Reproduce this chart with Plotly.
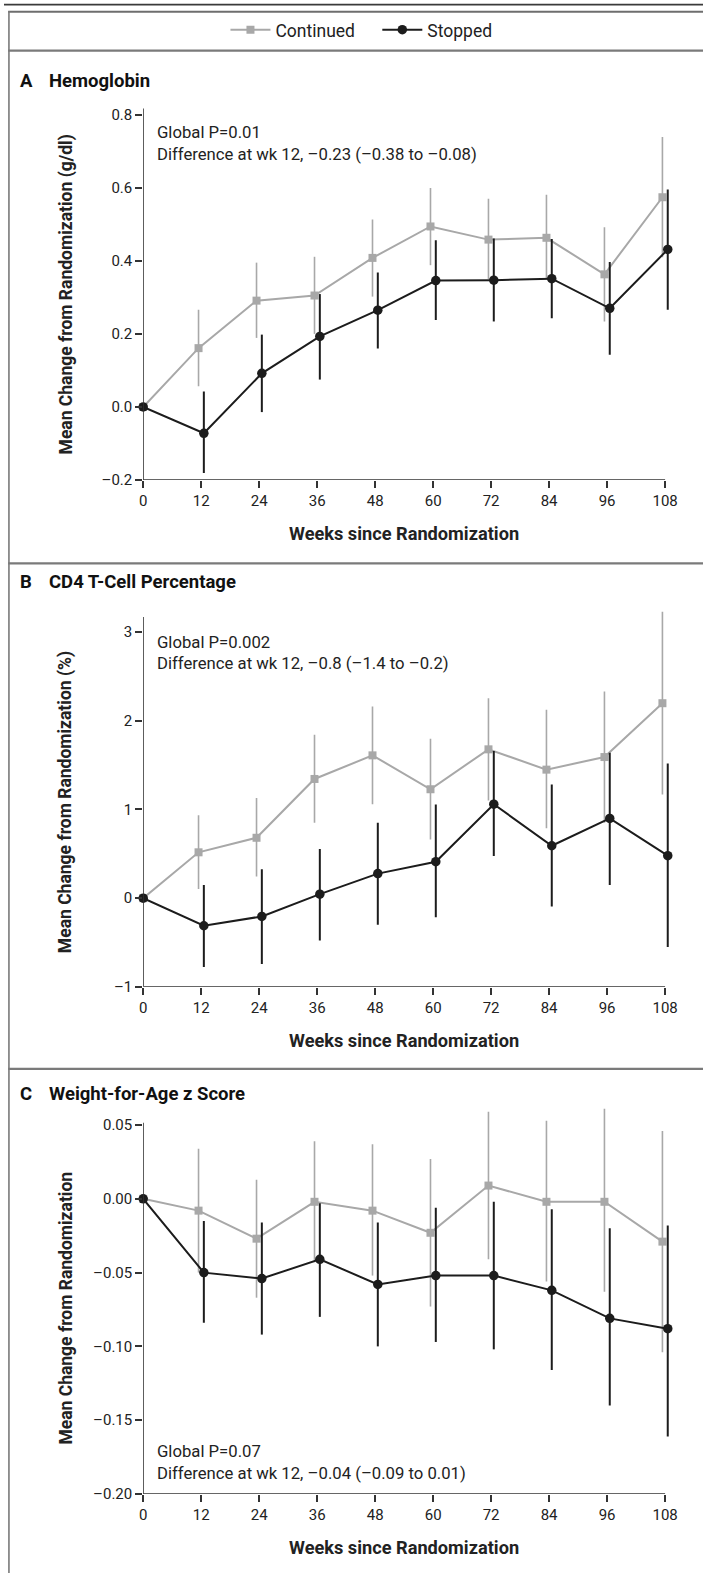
import plotly.graph_objects as go

# ---------------- data ----------------
weeks = [0, 12, 24, 36, 48, 60, 72, 84, 96, 108]
x_tick_labels = ["0", "12", "24", "36", "48", "60", "72", "84", "96", "108"]

# Panel A: Hemoglobin (g/dl)
hb_cont_mean = [0.0, 0.161, 0.291, 0.305, 0.408, 0.494, 0.458, 0.463, 0.363, 0.574]
hb_cont_low = [0.0, 0.057, 0.189, 0.200, 0.302, 0.388, 0.350, 0.350, 0.234, 0.410]
hb_cont_high = [0.0, 0.266, 0.395, 0.411, 0.513, 0.599, 0.570, 0.581, 0.492, 0.739]
hb_stop_mean = [0.0, -0.072, 0.092, 0.193, 0.265, 0.346, 0.347, 0.351, 0.270, 0.431]
hb_stop_low = [0.0, -0.181, -0.014, 0.075, 0.160, 0.238, 0.234, 0.243, 0.143, 0.266]
hb_stop_high = [0.0, 0.042, 0.198, 0.309, 0.368, 0.456, 0.461, 0.460, 0.397, 0.595]
hb_ticks = [-0.2, 0.0, 0.2, 0.4, 0.6, 0.8]
hb_tick_labels = ["–0.2", "0.0", "0.2", "0.4", "0.6", "0.8"]

# Panel B: CD4 T-cell percentage
cd4_cont_mean = [0.0, 0.517, 0.681, 1.344, 1.610, 1.228, 1.678, 1.449, 1.591, 2.198]
cd4_cont_low = [0.0, 0.104, 0.243, 0.850, 1.060, 0.660, 1.100, 0.787, 0.850, 1.169]
cd4_cont_high = [0.0, 0.936, 1.130, 1.843, 2.160, 1.798, 2.254, 2.124, 2.330, 3.230]
cd4_stop_mean = [0.0, -0.311, -0.206, 0.045, 0.277, 0.411, 1.059, 0.591, 0.899, 0.479]
cd4_stop_low = [0.0, -0.775, -0.742, -0.476, -0.300, -0.214, 0.475, -0.094, 0.149, -0.551]
cd4_stop_high = [0.0, 0.149, 0.326, 0.554, 0.850, 1.056, 1.658, 1.281, 1.640, 1.517]
cd4_ticks = [-1, 0, 1, 2, 3]
cd4_tick_labels = ["–1", "0", "1", "2", "3"]

# Panel C: Weight-for-age z score
wz_cont_mean = [0.0, -0.008, -0.027, -0.002, -0.008, -0.023, 0.009, -0.002, -0.002, -0.029]
wz_cont_low = [0.0, -0.050, -0.067, -0.043, -0.052, -0.073, -0.041, -0.056, -0.063, -0.104]
wz_cont_high = [0.0, 0.034, 0.013, 0.039, 0.037, 0.027, 0.059, 0.053, 0.061, 0.046]
wz_stop_mean = [0.0, -0.050, -0.054, -0.041, -0.058, -0.052, -0.052, -0.062, -0.081, -0.088]
wz_stop_low = [0.0, -0.084, -0.092, -0.080, -0.100, -0.097, -0.102, -0.116, -0.140, -0.161]
wz_stop_high = [0.0, -0.015, -0.016, -0.003, -0.016, -0.006, -0.002, -0.007, -0.020, -0.018]
wz_ticks = [-0.20, -0.15, -0.10, -0.05, 0.0, 0.05]
wz_tick_labels = ["–0.20", "–0.15", "–0.10", "–0.05", "0.00", "0.05"]

series_names = ["Continued", "Stopped"]
panel_letters = ["A", "B", "C"]
panel_titles = ["Hemoglobin", "CD4 T-Cell Percentage", "Weight-for-Age z Score"]
y_titles = ["Mean Change from Randomization (g/dl)",
            "Mean Change from Randomization (%)",
            "Mean Change from Randomization"]
stat_lines = [
    ["Global P=0.01", "Difference at wk 12, –0.23 (–0.38 to –0.08)"],
    ["Global P=0.002", "Difference at wk 12, –0.8 (–1.4 to –0.2)"],
    ["Global P=0.07", "Difference at wk 12, –0.04 (–0.09 to 0.01)"],
]
x_title = "Weeks since Randomization"

# ---------------- layout constants (pixels) ----------------
W, H = 708, 1582
FONT = "Roboto, 'Open Sans', sans-serif"
GRAY = "#a8a8a8"
BLACK = "#1c1c1c"
AXC = "#333333"
BOLD_SIZE = 17.5


def px(x):
    return x / W


def py(y):
    return 1 - y / H


# x mapping: week 0 at 141 px, week 108 at 669.6 px; range padded to the right
X0_PX, X108_PX = 141, 669.6
PX_PER_WEEK = (X108_PX - X0_PX) / 108
X_RANGE = [0, 109.6]
X_RIGHT_PX = X0_PX + PX_PER_WEEK * X_RANGE[1]

panels = [
    dict(zero_px=409.3, unit_px=367.5, ybot=-0.2, axis_top=0.817, range_top=0.86,
         ticks=hb_ticks, labels=hb_tick_labels, stat_y=[133, 155.5], title_y=81.5,
         data=(hb_cont_mean, hb_cont_low, hb_cont_high, hb_stop_mean, hb_stop_low, hb_stop_high)),
    dict(zero_px=903.3, unit_px=89.2, ybot=-1, axis_top=3.17, range_top=3.32,
         ticks=cd4_ticks, labels=cd4_tick_labels, stat_y=[646, 667.5], title_y=585,
         data=(cd4_cont_mean, cd4_cont_low, cd4_cont_high, cd4_stop_mean, cd4_stop_low, cd4_stop_high)),
    dict(zero_px=1205.7, unit_px=1484, ybot=-0.2, axis_top=0.0515, range_top=0.07,
         ticks=wz_ticks, labels=wz_tick_labels, stat_y=[1460, 1481.7], title_y=1100,
         data=(wz_cont_mean, wz_cont_low, wz_cont_high, wz_stop_mean, wz_stop_low, wz_stop_high)),
]

# small horizontal offset so the two series do not overlap (0 stays at 0)
x_cont = [w - 0.55 if w > 0 else w for w in weeks]
x_stop = [w + 0.55 if w > 0 else w for w in weeks]

fig = go.Figure()
annotations = []
shapes = []

for i, p in enumerate(panels):
    xa = "x" if i == 0 else f"x{i + 1}"
    ya = "y" if i == 0 else f"y{i + 1}"
    cm, cl, ch, sm, sl, sh = p["data"]
    fig.add_trace(go.Scatter(
        x=x_cont, y=cm, xaxis=xa, yaxis=ya, mode="lines+markers",
        name=series_names[0] + "\u00a0" * 4, showlegend=(i == 0), legendrank=1,
        line=dict(color=GRAY, width=2),
        marker=dict(symbol="square", size=8, color=GRAY),
        error_y=dict(type="data", symmetric=False,
                     array=[h - m for h, m in zip(ch, cm)],
                     arrayminus=[m - l for m, l in zip(cm, cl)],
                     color=GRAY, thickness=1.6, width=0),
        cliponaxis=False,
    ))
    fig.add_trace(go.Scatter(
        x=x_stop, y=sm, xaxis=xa, yaxis=ya, mode="lines+markers",
        name=series_names[1], showlegend=(i == 0), legendrank=2,
        line=dict(color=BLACK, width=2),
        marker=dict(symbol="circle", size=9.5, color=BLACK),
        error_y=dict(type="data", symmetric=False,
                     array=[h - m for h, m in zip(sh, sm)],
                     arrayminus=[m - l for m, l in zip(sm, sl)],
                     color=BLACK, thickness=2, width=0),
        cliponaxis=False,
    ))

    bottom_px = p["zero_px"] - p["ybot"] * p["unit_px"]
    top_px = p["zero_px"] - p["range_top"] * p["unit_px"]
    dom_y = [py(bottom_px), py(top_px)]
    xkey = "xaxis" if i == 0 else f"xaxis{i + 1}"
    ykey = "yaxis" if i == 0 else f"yaxis{i + 1}"
    fig.update_layout(**{
        xkey: dict(domain=[px(X0_PX), px(X_RIGHT_PX)], anchor=ya, range=X_RANGE,
                   tickvals=weeks, ticktext=x_tick_labels, ticks="outside",
                   ticklen=7, tickwidth=1.5, tickcolor=AXC, showline=False,
                   showgrid=False, zeroline=False,
                   tickfont=dict(family=FONT, size=15, color="#222")),
        ykey: dict(domain=dom_y, anchor=xa, range=[p["ybot"], p["range_top"]],
                   tickvals=p["ticks"], ticktext=p["labels"], ticks="outside",
                   ticklen=7, tickwidth=1.5, tickcolor=AXC, showline=False,
                   showgrid=False, zeroline=False,
                   tickfont=dict(family=FONT, size=15, color="#222")),
    })
    # axis lines (x from week 0 to 108, y from bottom to axis top)
    shapes.append(dict(type="line", xref=xa, yref=ya, x0=0, x1=108,
                       y0=p["ybot"], y1=p["ybot"], line=dict(color=AXC, width=1.6)))
    shapes.append(dict(type="line", xref=xa, yref=ya, x0=0, x1=0,
                       y0=p["ybot"], y1=p["axis_top"], line=dict(color=AXC, width=1.6)))

    # panel letter and title
    annotations.append(dict(text=f"<b>{panel_letters[i]}</b>", x=px(14), y=py(p["title_y"]),
                            xref="paper", yref="paper", xanchor="left", yanchor="middle",
                            showarrow=False, font=dict(family=FONT, size=18.5, color="#111")))
    annotations.append(dict(text=f"<b>{panel_titles[i]}</b>", x=px(43.5), y=py(p["title_y"]),
                            xref="paper", yref="paper", xanchor="left", yanchor="middle",
                            showarrow=False, font=dict(family=FONT, size=18.5, color="#111")))
    # axis titles
    annotations.append(dict(text=f"<b>{y_titles[i]}</b>", x=px(63),
                            y=py((bottom_px + p["zero_px"] - p["axis_top"] * p["unit_px"]) / 2),
                            xref="paper", yref="paper",
                            xanchor="center", yanchor="middle", textangle=-90,
                            showarrow=False, font=dict(family=FONT, size=BOLD_SIZE, color="#222")))
    annotations.append(dict(text=f"<b>{x_title}</b>", x=px((X0_PX + X108_PX) / 2),
                            y=py(bottom_px + 53.5), xref="paper", yref="paper",
                            xanchor="center", yanchor="middle",
                            showarrow=False, font=dict(family=FONT, size=18.2, color="#222")))
    # statistics text
    for line, yy in zip(stat_lines[i], p["stat_y"]):
        annotations.append(dict(text=line, x=px(153), y=py(yy), xref="paper", yref="paper",
                                xanchor="left", yanchor="middle", showarrow=False,
                                font=dict(family=FONT, size=16.7, color="#222")))


# frame lines
def hline(y, color, width, x0=0, x1=W):
    shapes.append(dict(type="line", xref="paper", yref="paper", x0=px(x0), x1=px(x1),
                       y0=py(y), y1=py(y), line=dict(color=color, width=width)))


hline(4.7, "#3a3a3a", 1.6)
hline(11.8, "#6e6e6e", 2.2, x0=4.2)
hline(51, "#7a7a7a", 2.2, x0=4.2)
hline(566.5, "#7a7a7a", 2.2, x0=4.2)
hline(1075, "#7a7a7a", 2.2, x0=4.2)
shapes.append(dict(type="line", xref="paper", yref="paper", x0=px(5), x1=px(5),
                   y0=py(11), y1=0, line=dict(color="#7a7a7a", width=1.6)))

fig.update_layout(
    width=W, height=H, margin=dict(l=0, r=0, t=0, b=0),
    paper_bgcolor="white", plot_bgcolor="white",
    showlegend=True,
    legend=dict(orientation="h", x=0.5114, xanchor="center", y=py(30), yanchor="middle",
                font=dict(family=FONT, size=17.5, color="#222"), itemwidth=40,
                bgcolor="rgba(0,0,0,0)", tracegroupgap=0),
    annotations=annotations, shapes=shapes,
)

fig.write_html(
    "out.html",
    config={"displayModeBar": False},
    post_script="document.body.style.margin='0';"
                "document.body.style.overflow='hidden';"
                "document.documentElement.style.overflow='hidden';",
)
